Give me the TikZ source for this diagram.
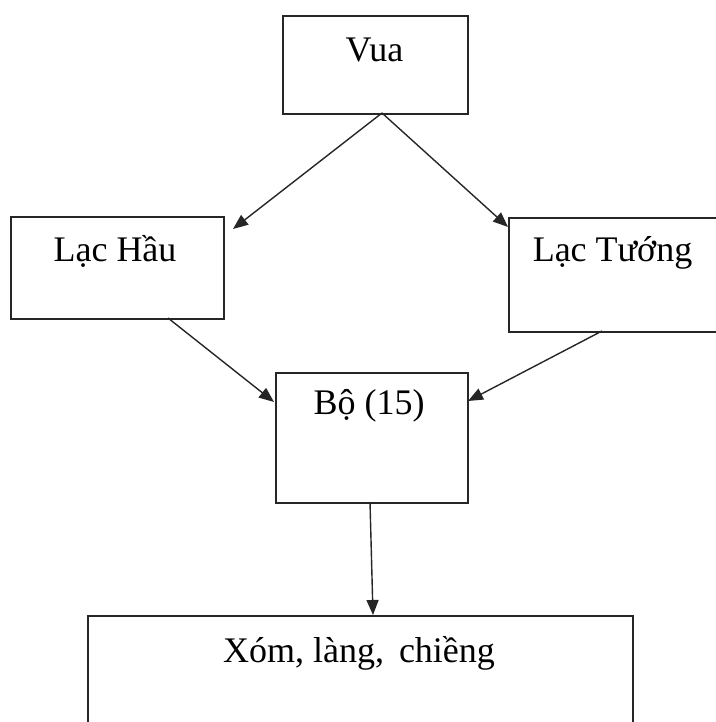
\documentclass[tikz,border=0pt]{standalone}
\usepackage{fontspec}
\setmainfont{Liberation Serif}
\usetikzlibrary{arrows.meta}
\tikzset{
  box/.style={draw=black!85, line width=1.6bp, rectangle, inner sep=0pt, anchor=north west},
  lbl/.style={anchor=base, inner sep=0pt, font=\fontsize{36bp}{40bp}\selectfont},
  conn/.style={draw=black!85, line width=1.4bp, -{Triangle[length=15bp,width=12bp]}, shorten >=0pt}
}
\begin{document}
\begin{tikzpicture}[x=1bp,y=-1bp]
\useasboundingbox (0,0) rectangle (716,722);
% boxes
\node[box, minimum width=185bp, minimum height=98bp] (vua) at (282,15) {};
\node[box, minimum width=213bp, minimum height=102bp] (hau) at (10,216) {};
\node[box, minimum width=230bp, minimum height=114bp] (tuong) at (508,217) {};
\node[box, minimum width=192bp, minimum height=130bp] (bo) at (275,372) {};
\node[box, minimum width=545bp, minimum height=130bp] (xom) at (87,615) {};
% labels
\node[lbl] (tvua) at (374.5,61.5) {Vua};
\node[lbl] (thau) at (115,261.5) {Lạc Hầu};
\node[lbl] (ttuong) at (612.5,261) {Lạc Tướng};
\node[lbl] (tbo) at (369,414) {Bộ (15)};
\node[lbl] (txom) at (359,662) {Xóm, làng,\, chiềng};
% connector ends
\coordinate (vuaS) at (382,113);
\coordinate (hauIn) at (233,229);
\coordinate (tuongIn) at (508,227);
\coordinate (hauS) at (168,318);
\coordinate (tuongS) at (602,331);
\coordinate (boL) at (274,402);
\coordinate (boR) at (468,401);
\coordinate (boS) at (370,502);
\coordinate (xomN) at (373,615);
% connectors
\draw[conn] (vuaS) -- (hauIn);
\draw[conn] (vuaS) -- (tuongIn);
\draw[conn] (hauS) -- (boL);
\draw[conn] (tuongS) -- (boR);
\draw[conn] (boS) -- (xomN);
\end{tikzpicture}
\end{document}
